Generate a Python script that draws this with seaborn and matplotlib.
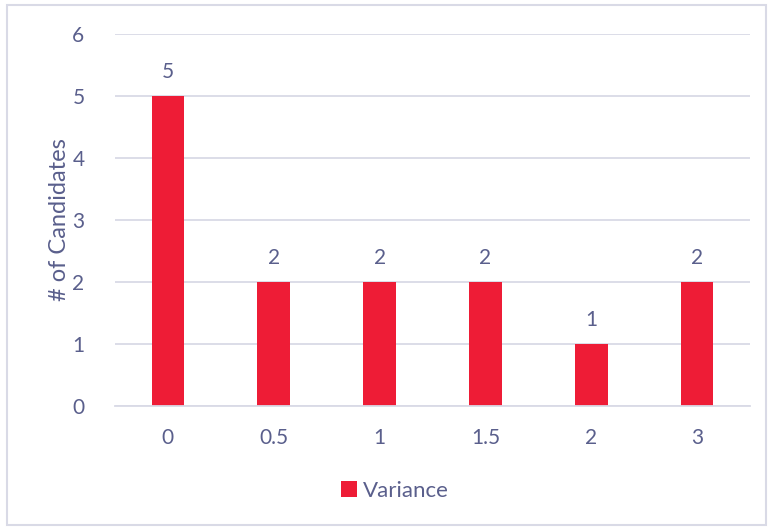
import matplotlib
matplotlib.use('Agg')
import matplotlib.pyplot as plt
import seaborn as sns
import pandas as pd
from matplotlib.patches import Rectangle

variance = ['0', '0.5', '1', '1.5', '2', '3']
candidates = [5, 2, 2, 2, 1, 2]
y_ticks = [0, 1, 2, 3, 4, 5, 6]

bar_color = '#EE1C36'
text_color = '#5A5F8C'
grid_color = '#D9DAE6'

sns.set_style('white')
plt.rcParams['font.family'] = ['Lato', 'DejaVu Sans']

df = pd.DataFrame({'Variance': variance, 'Candidates': candidates, 'series': 'Variance'})

fig = plt.figure(figsize=(7.68, 5.27), dpi=100)
ax = fig.add_axes([115 / 768, 1 - 406 / 527, 635 / 768, 372 / 527])

sns.barplot(data=df, x='Variance', y='Candidates', hue='series', palette=[bar_color],
            width=0.31, ax=ax, saturation=1, linewidth=0)

ax.set_ylim(0, 6)
ax.set_xlim(-0.5, len(variance) - 0.5)
ax.set_yticks(y_ticks)
ax.yaxis.grid(True, color=grid_color, linewidth=1.3)
ax.set_axisbelow(True)
for s in ['top', 'right', 'left']:
    ax.spines[s].set_visible(False)
ax.spines['bottom'].set_color(grid_color)
ax.spines['bottom'].set_linewidth(1.3)
ax.tick_params(axis='both', length=0, labelsize=15, colors=text_color)
ax.tick_params(axis='x', pad=16)
ax.tick_params(axis='y', pad=22)
ax.set_xlabel('')
ax.set_ylabel('# of Candidates', fontsize=17, color=text_color, labelpad=2)

for c in ax.containers:
    ax.bar_label(c, padding=10, fontsize=15, color=text_color)

leg = ax.legend(loc='center', bbox_to_anchor=(395 / 768, 1 - 491 / 527), bbox_transform=fig.transFigure,
                frameon=False, fontsize=16, handlelength=0.7, handleheight=0.7, handletextpad=0.3)
for t in leg.get_texts():
    t.set_color(text_color)

# chart border
fig.patches.append(Rectangle((7 / 768, 2 / 527), 759 / 768, 520 / 527, transform=fig.transFigure,
                             fill=False, edgecolor=grid_color, linewidth=1.5))

fig.savefig('out.png', dpi=100)
